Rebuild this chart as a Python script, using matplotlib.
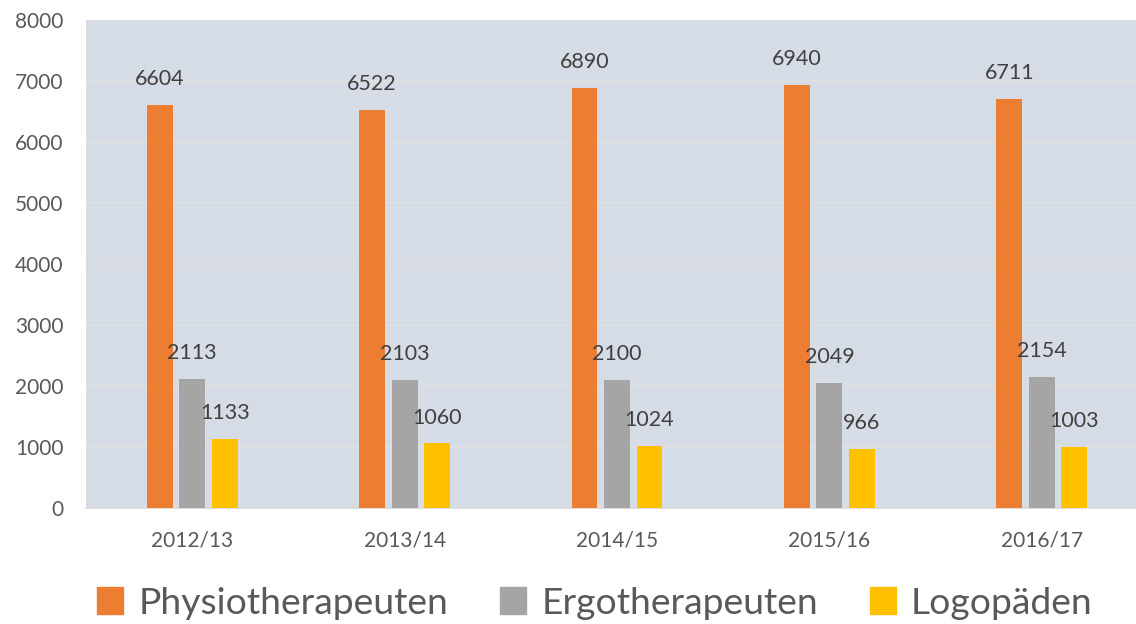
import matplotlib
matplotlib.use("Agg")
import matplotlib.pyplot as plt
import numpy as np
from matplotlib.patches import Patch

categories = ["2012/13", "2013/14", "2014/15", "2015/16", "2016/17"]
series_names = ["Physiotherapeuten", "Ergotherapeuten", "Logopäden"]
physio = [6604, 6522, 6890, 6940, 6711]
ergo = [2113, 2103, 2100, 2049, 2154]
logo = [1133, 1060, 1024, 966, 1003]
yticks = [0, 1000, 2000, 3000, 4000, 5000, 6000, 7000, 8000]

colors = ["#ED7D31", "#A5A5A5", "#FFC000"]
plt.rcParams['font.family'] = ['Lato', 'DejaVu Sans']

fig = plt.figure(figsize=(11.36, 6.24), dpi=100)
ax = fig.add_axes([86/1136, 1-508/624, 1062/1136, 488/624])
ax.set_facecolor("#D6DCE5")

x = np.arange(len(categories))
width = 0.122
step = 0.153
for i, (vals, c) in enumerate(zip([physio, ergo, logo], colors)):
    pos = x + (i - 1) * step
    ax.bar(pos, vals, width=width, color=c, zorder=3)
    for xp, v in zip(pos, vals):
        ax.annotate(str(v), (xp, v), xytext=(0, 18.5), textcoords="offset points",
                    ha="center", va="center", fontsize=15.5, color="#404040", zorder=4)

ax.set_xlim(-0.5, 4.5)
ax.set_ylim(0, 8000)
ax.set_yticks(yticks)
ax.set_yticklabels([str(t) for t in yticks], fontsize=15, color="#595959")
ax.set_xticks(x)
ax.set_xticklabels(categories, fontsize=15, color="#595959")
ax.tick_params(axis="y", length=0, pad=16)
ax.tick_params(axis="x", length=0, pad=16)
ax.grid(axis="y", color="#E0E0E0", linewidth=1.2, zorder=1)
for s in ["left", "right", "top"]:
    ax.spines[s].set_visible(False)
ax.spines["bottom"].set_color("#D9D9D9")
ax.spines["bottom"].set_linewidth(1.2)

handles = [Patch(facecolor=c, edgecolor=c) for c in colors]
fig.legend(handles, series_names, loc="center", bbox_to_anchor=(595/1136, 1-603/624),
           ncol=3, frameon=False, fontsize=26.8, labelcolor="#595959",
           handlelength=0.7, handleheight=0.7, handletextpad=0.4, columnspacing=1.4)

fig.savefig("out.png", dpi=100)
